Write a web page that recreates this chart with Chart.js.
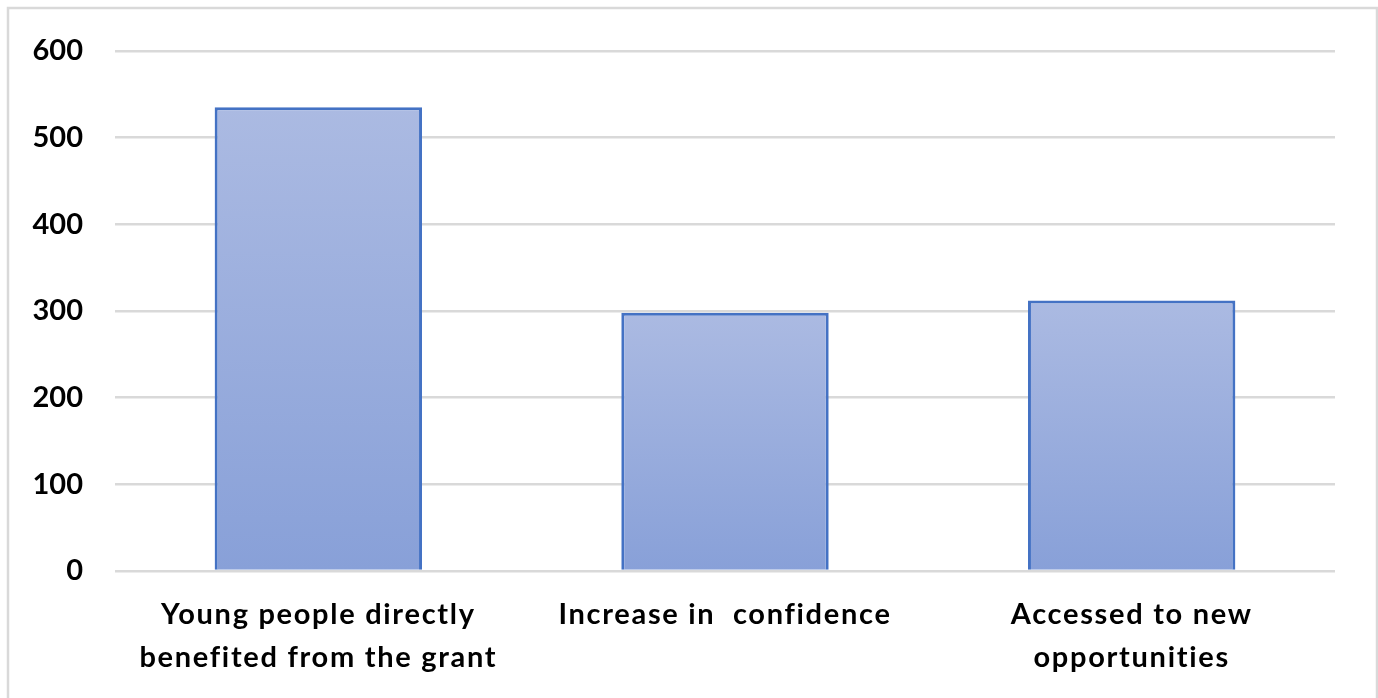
<!DOCTYPE html>
<html>
<head>
<meta charset="utf-8">
<script src="https://cdn.jsdelivr.net/npm/chart.js@4.4.0/dist/chart.umd.min.js"></script>
<style>
    html, body { margin: 0; padding: 0; background: #ffffff; }
    #wrap { width: 1378px; height: 698px; position: relative; }
</style>
</head>
<body>
<div id="wrap"><canvas id="bar-chart" width="1378" height="698"></canvas></div>
<script>
// Chart data
const categories = [
    ['Young people directly', 'benefited from the grant'],
    ['Increase in  confidence'],
    ['Accessed to new', 'opportunities']
];
const values = [535, 298, 312];
const tickValues = [0, 100, 200, 300, 400, 500, 600];

// Outer frame round the whole chart
const framePlugin = {
    id: 'frame',
    beforeDraw: (chart) => {
        const ctx = chart.ctx;
        ctx.save();
        ctx.fillStyle = '#ffffff';
        ctx.fillRect(0, 0, chart.width, chart.height);
        ctx.strokeStyle = '#d9d9d9';
        ctx.lineWidth = 2.5;
        ctx.strokeRect(8, 8, chart.width - 9, chart.height + 10);
        ctx.restore();
    }
};

// Wider letter spacing on the category labels only
const spacingPlugin = {
    id: 'xSpacing',
    afterLayout: (chart) => {
        const xs = chart.scales.x;
        if (xs._spaced) return;
        const orig = xs.drawLabels;
        xs.drawLabels = function (area) {
            const c = this.ctx;
            c.save();
            c.letterSpacing = '1.7px';
            orig.call(this, area);
            c.restore();
        };
        xs._spaced = true;
    }
};

// Each bar gets its own top-to-bottom gradient
function barGradient(context) {
    const chart = context.chart;
    const { ctx, chartArea, scales } = chart;
    if (!chartArea) return '#98acdc';
    const v = context.raw;
    const top = scales.y.getPixelForValue(v);
    const bottom = scales.y.getPixelForValue(0);
    const g = ctx.createLinearGradient(0, top, 0, bottom);
    g.addColorStop(0, '#abbae2');
    g.addColorStop(1, '#88a0d8');
    return g;
}

const ctx = document.getElementById('bar-chart').getContext('2d');
new Chart(ctx, {
    type: 'bar',
    data: {
        labels: categories,
        datasets: [{
            data: values,
            backgroundColor: barGradient,
            borderColor: '#4472c4',
            borderWidth: 3,
            borderSkipped: 'start',
            categoryPercentage: 1,
            barPercentage: 0.51
        }]
    },
    options: {
        responsive: false,
        animation: false,
        layout: {
            padding: { top: 51, right: 43, left: 0, bottom: 0 }
        },
        plugins: {
            legend: { display: false },
            tooltip: { enabled: false }
        },
        scales: {
            x: {
                grid: { display: false, drawTicks: false },
                border: { display: false },
                ticks: {
                    color: '#000000',
                    font: { family: 'Lato', size: 29, weight: 'bold', lineHeight: 1.48 },
                    padding: 22,
                    maxRotation: 0,
                    autoSkip: false
                },
                afterFit: (scale) => { scale.height = 127; }
            },
            y: {
                min: 0,
                max: 600,
                afterBuildTicks: (scale) => {
                    scale.ticks = tickValues.map(v => ({ value: v }));
                },
                grid: { color: '#d9d9d9', lineWidth: 2.5, drawTicks: false },
                border: { display: false },
                ticks: {
                    color: '#000000',
                    font: { family: 'Lato', size: 29, weight: 'bold' },
                    padding: 32
                },
                afterFit: (scale) => { scale.width = 115; }
            }
        }
    },
    plugins: [framePlugin, spacingPlugin]
});
</script>
</body>
</html>
